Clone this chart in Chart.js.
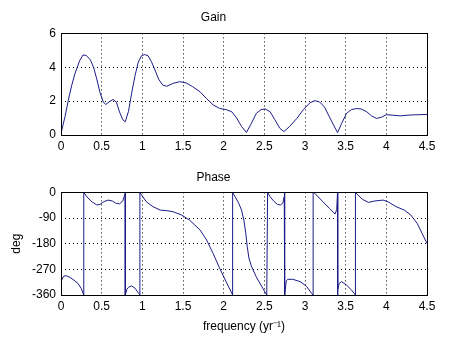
<!DOCTYPE html>
<html>
<head>
<meta charset="utf-8">
<script src="https://cdn.jsdelivr.net/npm/chart.js@4/dist/chart.umd.min.js"></script>
<style>
  body { margin: 0; background: #fff; }
  #wrap { position: relative; width: 472px; height: 337px; background: #fff; }
  canvas { position: absolute; left: 0; }
</style>
</head>
<body>
<div id="wrap">
  <canvas id="gain" width="472" height="168" style="top:0"></canvas>
  <canvas id="phase" width="472" height="169" style="top:168px"></canvas>
</div>
<script>
const freqTicks = [0, 0.5, 1, 1.5, 2, 2.5, 3, 3.5, 4, 4.5];
const gainTicks = [0, 2, 4, 6];
const phaseTicks = [-360, -270, -180, -90, 0];

const gainFreq = [0, 0.05, 0.09, 0.13, 0.17, 0.23, 0.27, 0.31, 0.36, 0.40, 0.44, 0.48, 0.52, 0.55, 0.59,
  0.64, 0.68, 0.72, 0.76, 0.79, 0.83, 0.87, 0.91, 0.95, 0.99, 1.03, 1.07, 1.11, 1.15, 1.20, 1.25, 1.30,
  1.38, 1.46, 1.54, 1.62, 1.71, 1.79, 1.87, 1.95, 2.03, 2.10, 2.16, 2.22, 2.28, 2.34, 2.40, 2.46, 2.51,
  2.57, 2.63, 2.69, 2.74, 2.81, 2.90, 2.98, 3.06, 3.12, 3.18, 3.24, 3.30, 3.35, 3.40, 3.45, 3.51, 3.57,
  3.63, 3.69, 3.76, 3.82, 3.88, 3.94, 4.00, 4.08, 4.17, 4.29, 4.40, 4.50];
const gainValues = [0.1, 1.1, 2.05, 2.9, 3.6, 4.4, 4.72, 4.7, 4.45, 4.0, 3.3, 2.5, 1.95, 1.8, 1.95,
  2.1, 1.95, 1.35, 0.9, 0.78, 1.4, 2.5, 3.5, 4.3, 4.68, 4.75, 4.68, 4.35, 3.9, 3.3, 2.95, 2.88,
  3.05, 3.15, 3.07, 2.85, 2.55, 2.15, 1.78, 1.57, 1.5, 1.37, 1.0, 0.5, 0.15, 0.68, 1.27, 1.5, 1.54,
  1.38, 0.9, 0.4, 0.2, 0.5, 0.98, 1.5, 1.9, 2.03, 1.95, 1.65, 1.07, 0.6, 0.14, 0.68, 1.27, 1.5,
  1.56, 1.54, 1.37, 1.12, 0.98, 1.05, 1.2, 1.17, 1.13, 1.18, 1.2, 1.21];

const phaseFreq = [0, 0.03, 0.06, 0.11, 0.16, 0.21, 0.25, 0.28, 0.28, 0.32, 0.38, 0.44, 0.48, 0.53,
  0.58, 0.63, 0.68, 0.72, 0.76, 0.79, 0.79, 0.81, 0.83, 0.87, 0.91, 0.95, 0.97, 0.97, 0.99, 1.05,
  1.13, 1.22, 1.30, 1.38, 1.48, 1.58, 1.71, 1.79, 1.87, 1.95, 2.03, 2.10, 2.11, 2.11, 2.14, 2.18,
  2.22, 2.25, 2.27, 2.29, 2.31, 2.34, 2.40, 2.48, 2.53, 2.54, 2.57, 2.62, 2.66, 2.70, 2.73, 2.745,
  2.75, 2.75, 2.77, 2.79, 2.85, 2.94, 3.02, 3.08, 3.10, 3.10, 3.12, 3.22, 3.30, 3.37, 3.39, 3.40,
  3.40, 3.405, 3.42, 3.45, 3.51, 3.57, 3.62, 3.62, 3.65, 3.71, 3.78, 3.86, 3.96, 4.02, 4.12, 4.22,
  4.30, 4.38, 4.44, 4.50];
const phaseValues = [-312, -295, -292, -298, -308, -320, -338, -360, 0, -16, -33, -44, -42, -32,
  -27, -30, -39, -40, -30, -3, -360, -340, -333, -328, -336, -352, -360, 0, -9, -33,
  -50, -62, -64, -68, -79, -97, -132, -167, -214, -266, -313, -354, -360, 0, -15, -35,
  -62, -100, -140, -190, -230, -258, -296, -336, -360, 0, -15, -32, -42, -44, -36, -15,
  0, -360, -310, -305, -305, -313, -330, -354, -360, 0, -3, -33, -56, -76, -60, 0,
  -360, -340, -320, -313, -325, -342, -360, 0, -9, -25, -35, -30, -27, -33, -50, -62,
  -79, -109, -144, -179];

const lineColor = '#1c1c86';
const font = { family: "'Liberation Sans', Arial, sans-serif", size: 12, weight: 'normal' };
Chart.defaults.color = '#000';

const boxPlugin = {
  id: 'box',
  afterDraw(chart) {
    const a = chart.chartArea;
    const ctx = chart.ctx;
    ctx.save();
    ctx.strokeStyle = '#000';
    ctx.lineWidth = 1;
    ctx.strokeRect(Math.round(a.left) + 0.5, Math.round(a.top) + 0.5,
      Math.round(a.right - a.left), Math.round(a.bottom - a.top));
    ctx.restore();
  }
};

function toPoints(xs, ys) {
  return xs.map((x, i) => ({ x: x, y: ys[i] }));
}

function fixedTicks(values) {
  return function (scale) {
    scale.ticks = values.map(v => ({ value: v }));
  };
}

function makeChart(id, opts) {
  return new Chart(document.getElementById(id), {
    type: 'line',
    data: {
      datasets: [{
        data: toPoints(opts.xs, opts.ys),
        borderColor: lineColor,
        borderWidth: 1,
        pointRadius: 0,
        tension: 0,
        fill: false,
      }],
    },
    options: {
      responsive: false,
      animation: false,
      layout: { padding: { left: 0, right: 45, top: 0, bottom: 0 } },
      plugins: {
        legend: { display: false },
        tooltip: { enabled: false },
        title: {
          display: true,
          text: opts.title,
          font: font,
          color: '#000',
          padding: opts.titlePadding,
        },
      },
      scales: {
        x: {
          type: 'linear',
          min: 0,
          max: 4.5,
          afterBuildTicks: fixedTicks(freqTicks),
          afterFit(scale) { scale.height = opts.xHeight; },
          ticks: { font: font, padding: 4, maxRotation: 0, autoSkip: false,
                   callback: v => String(v) },
          grid: { color: '#000', drawTicks: false, lineWidth: 1 },
          border: { display: false, dash: [1, 3] },
          title: opts.xTitle,
        },
        y: {
          min: opts.yMin,
          max: opts.yMax,
          afterBuildTicks: fixedTicks(opts.yTicks),
          afterFit(scale) { scale.width = 61; },
          ticks: { font: font, padding: 5, autoSkip: false, callback: v => String(v) },
          grid: { color: '#000', drawTicks: false, lineWidth: 1 },
          border: { display: false, dash: [1, 3] },
          title: opts.yTitle,
        },
      },
    },
    plugins: [boxPlugin],
  });
}

makeChart('gain', {
  xs: gainFreq, ys: gainValues,
  title: 'Gain',
  titlePadding: { top: 10, bottom: 9 },
  xHeight: 33,
  yMin: 0, yMax: 6, yTicks: gainTicks,
  xTitle: { display: false },
  yTitle: { display: false },
});

makeChart('phase', {
  xs: phaseFreq, ys: phaseValues,
  title: 'Phase',
  titlePadding: { top: 2, bottom: 8 },
  xHeight: 42,
  yMin: -360, yMax: 0, yTicks: phaseTicks,
  xTitle: { display: true, text: 'frequency (yr\u207B\u00B9)', font: font, color: '#000',
            padding: { top: 0, bottom: 3 } },
  yTitle: { display: true, text: 'deg', font: font, color: '#000',
            padding: { top: 9, bottom: 0 } },
});
</script>
</body>
</html>
